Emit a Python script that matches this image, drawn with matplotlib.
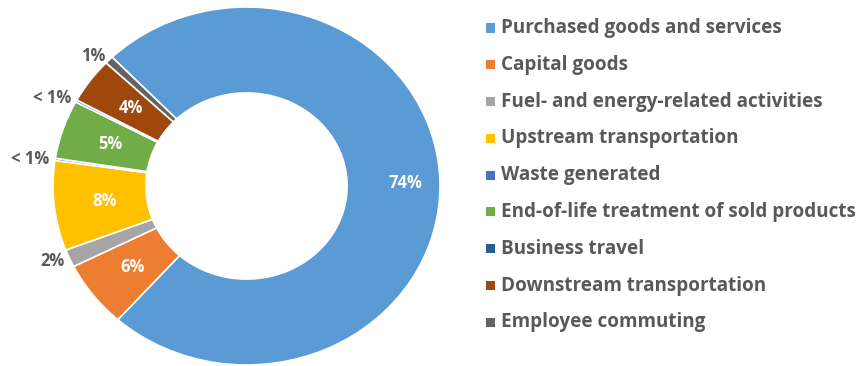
import numpy as np
import matplotlib
matplotlib.use("Agg")
import matplotlib.pyplot as plt
from matplotlib.patches import Rectangle

plt.rcParams['font.family'] = ['Open Sans', 'DejaVu Sans']

categories = [
    "Purchased goods and services",
    "Capital goods",
    "Fuel- and energy-related activities",
    "Upstream transportation",
    "Waste generated",
    "End-of-life treatment of sold products",
    "Business travel",
    "Downstream transportation",
    "Employee commuting",
]
shares = [73.8, 6.0, 1.6, 8.1, 0.2, 5.3, 0.2, 4.1, 0.7]
colors = ["#5B9BD5", "#ED7D31", "#A5A5A5", "#FFC000", "#4472C4",
          "#70AD47", "#255E91", "#9E480E", "#636363"]

TEXT_GREY = "#595959"


def pct_label(v):
    return "< 1%" if v < 0.5 else f"{round(v):.0f}%"


fig = plt.figure(figsize=(8.65, 3.66), dpi=100)
# Axes box sized so the ring comes out slightly flattened
ax = fig.add_axes([53 / 865, 1 / 366, 387 / 865, 358 / 366])

wedges, _ = ax.pie(
    shares, colors=colors, startangle=134, counterclock=False,
    radius=1.0, wedgeprops=dict(width=0.48, edgecolor="white", linewidth=1.2),
)
ax.set_xlim(-1, 1)
ax.set_ylim(-1, 1)
ax.set_aspect("auto")
ax.axis("off")

for w, v in zip(wedges, shares):
    mid = np.deg2rad((w.theta1 + w.theta2) / 2)
    if v >= 3:
        r = 0.82 if v > 50 else 0.74
        ax.text(r * np.cos(mid), r * np.sin(mid), pct_label(v),
                ha="center", va="center", color="white",
                fontsize=12, fontweight="bold")
    else:
        r = 1.03
        ax.text(r * np.cos(mid), r * np.sin(mid), pct_label(v),
                ha="right", va="center", color=TEXT_GREY,
                fontsize=12, fontweight="bold")

# Legend column on the right
y0 = 1 - 28 / 366
dy = 36.8 / 366
for i, (name, c) in enumerate(zip(categories, colors)):
    y = y0 - i * dy
    fig.add_artist(Rectangle((486 / 865, y - 4.5 / 366), 9 / 865, 9 / 366,
                             transform=fig.transFigure, facecolor=c,
                             edgecolor="none"))
    fig.text(501 / 865, y, name, ha="left", va="center", color=TEXT_GREY,
             fontsize=13.6, fontweight="bold")

fig.savefig("out.png", dpi=100, facecolor="white")
